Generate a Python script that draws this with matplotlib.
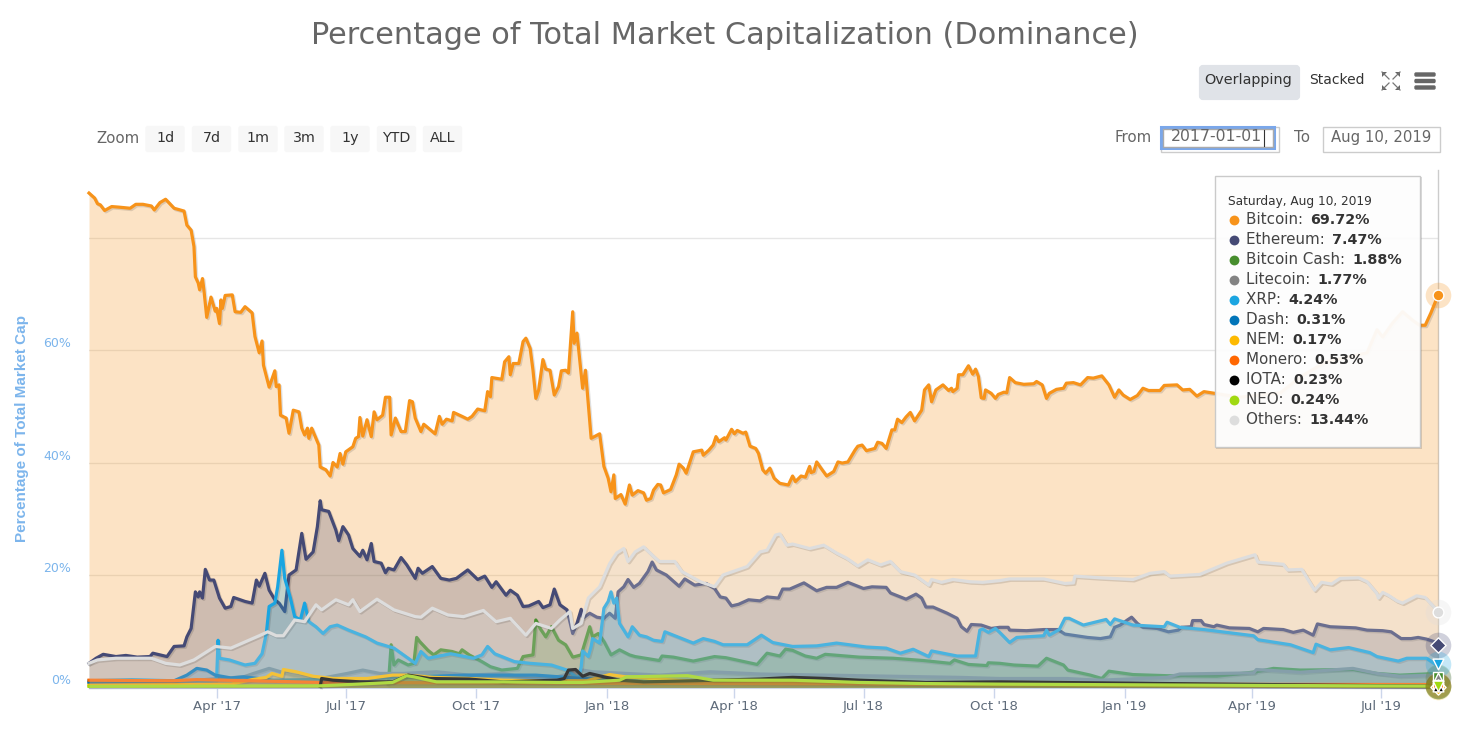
import matplotlib
matplotlib.use("Agg")
import matplotlib.pyplot as plt
import matplotlib.patheffects as pe
from matplotlib.patches import FancyBboxPatch, Polygon, Rectangle
import pandas as pd

start = pd.Timestamp("2017-01-01")

# days since 2017-01-01 and % dominance
btc_days = [0,4,6,8,11,16,21,29,33,38,44,46,50,54,60,67,69,72,74,75,77,78,80,81,83,86,89,90,92,93,94,96,101,103,107,110,115,117,120,122,123,127,131,132,134,135,139,141,144,148,150,152,154,155,157,162,163,167,170,172,175,177,179,181,186,188,190,191,193,196,199,201,203,207,209,212,213,216,220,223,226,228,230,234,236,244,247,249,252,256,257,263,267,270,274,279,281,283,284,291,293,296,297,299,303,306,308,311,313,315,317,320,322,325,328,331,333,336,338,341,342,344,348,350,354,360,363,366,368,370,371,375,378,381,383,387,391,393,396,398,401,403,405,410,414,416,419,421,426,432,433,437,440,442,444,448,449,453,455,457,461,463,466,470,472,475,477,480,483,487,493,496,498,502,505,508,509,511,513,516,520,525,528,531,535,540,542,545,548,554,556,559,562,566,568,570,573,576,579,582,587,589,592,594,597,602,606,608,609,612,613,616,620,623,625,627,629,631,632,636,639,641,645,647,649,653,659,666,668,672,675,677,682,687,689,694,699,704,708,714,719,723,726,729,734,739,743,747,755,758,767,771,776,781,786,791,811,840,854,872,901,908,912,919,926,933,938,942,946,951]
btc_vals = [87.9,87.0,86.0,85.8,84.8,85.5,85.4,85.2,85.9,85.9,85.6,84.9,86.2,86.8,85.2,84.7,82.2,81.3,78.4,73.0,71.9,70.7,72.7,70.7,65.8,69.4,66.9,67.4,64.7,68.9,67.4,69.7,69.8,66.8,66.7,67.7,66.6,62.4,59.5,61.6,57.3,53.4,56.3,53.5,53.8,48.4,47.9,45.2,49.3,49.0,46.1,44.9,46.1,44.3,46.1,43.1,39.2,38.7,37.6,40.0,39.2,41.6,39.7,41.9,42.8,44.3,44.6,48.0,44.7,47.6,44.6,49.0,47.6,48.4,51.6,51.6,44.9,47.9,45.5,45.5,51.0,50.8,47.9,45.5,46.8,45.1,48.2,46.8,47.7,47.4,48.9,48.2,47.7,48.2,49.5,49.2,52.6,51.7,55.1,54.8,57.9,58.8,55.6,57.6,57.6,61.5,62.1,60.3,56.4,51.4,52.9,58.3,56.6,56.4,52.0,53.5,56.3,56.4,55.9,66.8,61.2,63.0,53.2,56.4,44.3,45.1,39.3,37.2,34.8,37.8,33.6,34.3,32.6,36.0,34.2,35.0,34.6,33.3,33.6,35.1,36.1,36.0,34.6,35.2,37.8,39.7,39.0,38.1,41.9,42.2,41.3,42.2,43.1,44.6,43.7,44.4,44.0,45.9,45.1,45.7,45.2,45.4,42.9,42.5,41.6,38.7,38.1,39.0,37.2,36.3,36.0,37.6,36.6,37.6,37.4,39.3,38.2,38.4,40.1,39.0,37.6,38.4,40.1,39.9,40.1,42.2,42.9,43.1,42.1,42.5,43.6,43.4,42.5,45.8,45.8,47.7,47.1,48.1,48.9,47.4,49.3,52.9,53.8,50.8,52.9,53.8,52.8,53.2,52.6,53.2,55.6,55.6,57.2,55.7,56.6,55.3,51.5,51.4,52.9,52.3,51.4,52.1,52.5,52.4,55.1,54.2,53.9,54.0,54.4,53.8,51.4,52.3,53.0,53.2,54.1,54.2,53.8,55.1,55.0,55.4,53.8,51.6,52.9,52.0,51.2,51.9,53.2,52.8,52.8,53.7,53.8,52.9,53.0,51.8,52.6,52.4,51.6,52.4,55.2,57.9,59.5,63.6,62.3,64.8,66.8,65.3,64.4,64.4,66.6,69.72]

eth_days = [0,5,10,19,26,34,43,45,50,55,60,67,69,72,75,77,78,80,82,85,88,92,96,100,102,110,115,118,120,124,127,131,134,138,141,146,150,153,158,161,163,164,169,174,176,179,183,186,191,193,196,199,201,206,209,211,215,220,224,230,232,235,242,248,254,259,267,274,279,284,287,294,297,302,306,310,317,320,325,328,332,337,341,344,347,348,353,358,363,367,371,373,377,380,384,388,394,397,400,407,416,420,427,435,441,445,449,453,458,465,473,478,486,489,494,504,513,520,527,535,546,552,562,565,576,583,587,590,595,605,612,615,619,622,629,636,642,648,649,661,673,683,688,696,704,713,720,723,727,732,735,739,743,753,761,768,770,777,778,784,786,793,795,804,818,824,828,842,849,856,863,866,875,893,901,912,918,925,932,937,943,950,951]
eth_vals = [4.3,5.2,5.9,5.5,5.7,5.4,5.5,6.1,5.8,5.5,7.3,7.4,9.0,10.5,17.0,16.1,17.0,15.9,21.0,19.1,19.1,15.9,14.1,14.4,16.0,15.3,15.0,19.1,18.0,20.3,17.3,15.6,15.0,13.5,20.0,20.9,27.4,22.8,24.1,28.6,33.2,31.6,31.3,28.0,26.1,28.6,27.1,24.7,23.3,24.4,22.7,25.6,22.4,22.1,20.4,21.2,20.9,23.1,21.8,19.4,21.2,20.3,21.5,19.4,19.1,19.4,20.9,19.2,19.8,17.8,18.8,16.4,17.3,16.4,14.4,14.5,15.3,14.2,14.7,17.5,14.7,13.8,9.6,11.4,13.9,12.3,13.2,12.5,12.3,13.2,12.3,17.0,17.9,19.2,17.8,18.5,20.6,22.3,20.9,20.0,18.0,19.3,18.2,18.5,17.6,16.1,15.9,14.5,14.8,15.6,15.4,16.1,15.9,17.5,17.5,18.6,17.2,17.8,17.8,18.7,17.6,17.9,17.8,16.8,15.7,16.6,15.9,14.3,14.3,13.2,12.3,10.8,10.0,11.2,11.1,10.5,10.7,10.7,10.2,10.1,10.3,10.3,9.5,9.2,8.9,8.7,9.0,10.7,11.1,12.0,12.5,11.4,10.7,10.5,9.9,10.2,10.7,10.8,11.9,11.9,11.2,10.8,11.1,10.6,10.5,9.9,10.5,10.3,9.8,10.2,9.3,11.3,10.8,10.6,10.2,10.1,9.9,8.7,8.7,8.9,8.6,8.0,7.47]

xrp_days = [0,30,59,85,89,90,91,92,99,110,117,122,125,127,131,133,136,138,142,145,149,152,155,160,165,170,175,183,195,203,215,230,234,239,255,271,277,281,286,300,311,326,337,345,347,348,352,354,355,360,363,366,368,370,372,374,380,383,388,393,398,404,406,412,426,433,441,447,464,474,482,496,513,527,548,562,572,581,592,594,612,625,628,630,634,639,642,649,654,673,675,677,684,688,691,701,717,720,723,736,758,760,769,786,821,824,847,863,865,875,888,903,908,923,929,943,950,951]
xrp_vals = [1.2,1.4,1.2,1.1,1.3,1.9,8.4,5.2,4.9,4.0,4.3,6.0,9.6,14.4,15.0,17.9,24.4,19.4,15.9,12.6,12.0,15.0,11.7,10.8,9.6,10.8,11.1,10.2,9.0,7.9,7.0,4.3,6.4,5.2,6.0,5.2,5.8,7.3,6.0,4.6,4.3,4.0,3.1,1.6,3.7,6.5,5.5,7.3,8.7,7.9,14.1,15.3,17.0,15.0,15.9,11.4,9.0,10.8,9.3,9.0,8.4,8.2,9.9,9.3,7.9,8.7,8.2,7.6,7.6,9.3,8.0,7.3,7.4,7.9,7.2,7.0,6.1,6.8,5.5,6.5,5.6,5.6,10.2,10.4,9.8,10.5,9.8,8.0,8.9,9.2,10.2,9.3,10.3,12.3,12.3,11.1,12.1,11.2,12.2,11.1,10.8,11.6,10.7,10.3,9.2,8.5,7.6,6.2,7.7,6.7,7.1,6.2,5.5,4.7,5.2,5.2,4.0,4.24]

bch_days = [211,213,215,218,225,229,231,233,239,243,248,256,261,263,268,277,283,291,302,306,313,315,318,322,326,331,336,341,347,353,355,359,363,368,374,381,385,402,404,412,426,441,449,471,478,487,491,496,505,513,519,543,567,588,607,610,620,633,634,642,652,669,675,687,690,706,714,719,736,760,795,823,835,854,891,908,924,950,951]
bch_vals = [0.5,7.6,4.0,4.9,4.0,4.3,8.9,8.2,6.6,5.8,6.7,6.4,6.0,6.7,5.8,4.6,3.7,3.1,3.4,5.5,5.8,12.0,10.5,9.0,10.8,8.4,7.6,5.4,5.8,10.8,9.0,9.6,8.2,5.8,6.7,5.8,5.5,4.8,5.6,5.4,4.7,5.5,5.3,4.1,6.1,5.6,6.8,6.6,5.6,5.2,5.9,5.4,5.2,4.8,4.3,4.9,4.1,3.9,4.4,4.3,4.0,3.8,5.2,4.0,3.1,2.2,1.6,2.9,2.3,2.1,2.0,2.8,3.4,3.1,3.2,2.5,2.2,2.5,1.88]

ltc_days = [0,59,109,116,127,135,144,163,182,193,205,221,245,268,292,311,330,348,355,379,402,438,473,520,567,614,642,689,713,760,769,821,823,854,891,908,924,950,951]
ltc_vals = [1.0,1.0,1.9,2.5,3.4,2.8,2.2,1.6,2.5,3.1,2.5,2.5,2.8,2.2,2.5,1.6,1.9,3.1,2.8,2.5,2.2,2.8,2.4,2.2,2.0,1.8,1.6,1.6,1.3,1.8,2.4,2.6,3.2,2.7,3.4,2.5,2.0,2.2,1.77]

dash_days = [0,60,69,76,83,89,100,109,130,200,264,315,348,420,600,951]
dash_vals = [0.9,1.2,2.2,3.4,3.1,2.2,1.7,1.9,1.3,1.6,2.2,2.2,1.6,1.0,0.5,0.31]

nem_days = [0,100,115,125,129,136,137,146,158,172,196,214,224,243,268,292,315,351,367,378,420,600,951]
nem_vals = [0.4,0.6,1.4,1.8,2.5,2.0,3.2,2.8,2.0,1.6,1.6,2.2,2.2,1.8,1.6,1.3,1.2,1.2,2.3,1.9,1.2,0.5,0.17]

xmr_days = [0,59,76,115,163,300,600,951]
xmr_vals = [1.3,1.2,1.4,1.2,0.9,0.8,0.6,0.53]

iota_days = [163,164,172,191,214,225,240,268,292,330,335,338,343,348,353,363,374,391,426,473,496,520,543,590,642,800,951]
iota_vals = [0.2,1.6,1.3,1.0,1.0,2.2,1.6,1.5,1.0,1.3,1.6,3.1,3.2,2.0,2.5,1.9,1.3,1.0,1.2,1.5,1.8,1.6,1.3,0.9,1.0,0.6,0.23]

neo_days = [0,163,198,214,224,229,245,292,330,348,374,379,422,440,496,543,590,642,800,951]
neo_vals = [0.2,0.3,0.7,0.9,2.1,1.9,1.0,1.0,0.9,0.9,1.3,1.9,2.1,1.3,1.3,0.9,0.7,0.6,0.4,0.24]

oth_days = [0,6,19,44,54,64,74,89,100,110,120,126,132,137,145,152,160,164,174,183,186,191,203,215,230,234,242,253,264,278,287,297,308,315,326,332,339,341,347,352,360,367,372,377,380,385,391,398,402,413,418,431,441,447,464,473,478,484,487,492,496,508,518,527,534,542,549,558,565,572,582,592,594,601,609,621,630,642,649,673,688,694,695,713,736,748,758,762,783,802,822,824,842,845,855,864,869,876,882,895,901,908,909,912,916,922,926,936,942,950,951]
oth_vals = [4.3,4.9,5.2,5.2,4.3,4.0,4.9,7.3,7.0,8.1,9.2,9.9,9.2,9.2,12.0,11.7,14.7,13.8,15.6,14.7,15.6,13.5,15.7,13.8,12.6,12.5,14.1,12.9,12.6,13.7,11.7,12.3,9.3,11.4,10.5,12.0,13.5,10.5,11.4,15.9,17.9,22.0,23.9,24.7,22.4,24.1,25.0,23.3,22.4,22.4,20.6,18.8,17.9,20.0,21.5,24.1,24.4,27.1,27.3,25.3,25.5,24.7,25.3,23.9,23.0,21.6,22.7,21.8,22.4,20.6,20.0,18.2,19.2,18.7,19.2,18.8,18.7,19.0,19.3,19.3,18.5,18.6,19.8,19.5,19.2,20.3,20.6,19.8,20.1,22.1,23.6,22.3,21.9,20.9,21.0,17.3,18.7,18.4,19.4,19.5,18.8,16.7,15.9,16.9,16.4,15.4,15.0,16.3,16.0,13.8,13.44]

names = ["Bitcoin", "Ethereum", "Bitcoin Cash", "Litecoin", "XRP", "Dash", "NEM", "Monero", "IOTA", "NEO", "Others"]
latest = ["69.72%", "7.47%", "1.88%", "1.77%", "4.24%", "0.31%", "0.17%", "0.53%", "0.23%", "0.24%", "13.44%"]
colors = ["#f7931a", "#454a75", "#478e2e", "#838383", "#1aa5e1", "#0074b8", "#fdb900", "#ff6600", "#000000", "#a0d911", "#dddddd"]
series = [(btc_days, btc_vals), (eth_days, eth_vals), (bch_days, bch_vals), (ltc_days, ltc_vals),
          (xrp_days, xrp_vals), (dash_days, dash_vals), (nem_days, nem_vals), (xmr_days, xmr_vals),
          (iota_days, iota_vals), (neo_days, neo_vals), (oth_days, oth_vals)]
markers = ["o", "D", "s", "^", "v", "o", "D", "s", "^", "v", "o"]

tick_dates = ["2017-04-01", "2017-07-01", "2017-10-01", "2018-01-01", "2018-04-01", "2018-07-01", "2018-10-01", "2019-01-01", "2019-04-01", "2019-07-01"]
tick_labels = ["Apr '17", "Jul '17", "Oct '17", "Jan '18", "Apr '18", "Jul '18", "Oct '18", "Jan '19", "Apr '19", "Jul '19"]
y_ticks = [0, 20, 40, 60, 80]
y_labels = ["0%", "20%", "40%", "60%", ""]
zoom_buttons = ["1d", "7d", "1m", "3m", "1y", "YTD", "ALL"]

W, H = 1484, 732
fig = plt.figure(figsize=(W / 100, H / 100), dpi=100)
ax = fig.add_axes([89 / W, (H - 687.5) / H, (1438 - 89) / W, (687.5 - 170) / H])

for i, (days, vals) in enumerate(series):
    x = start + pd.to_timedelta(days, unit="D")
    ax.fill_between(x, vals, 0, color=colors[i], alpha=0.25, lw=0, zorder=3 + i)
    ax.plot(x, vals, color=colors[i], lw=2.3, zorder=3 + i, clip_on=False, solid_joinstyle="round",
            path_effects=[pe.SimpleLineShadow(offset=(1, -1), alpha=0.12, shadow_color="k"), pe.Normal()])
    # hover marker at the last point
    ax.scatter(x[-1], vals[-1], s=340, color=colors[i], alpha=0.25, lw=0, zorder=20, clip_on=False)
    ax.scatter(x[-1], vals[-1], s=60, color=colors[i], marker=markers[i], edgecolor="white", lw=1, zorder=21, clip_on=False)

end = start + pd.Timedelta(days=951)
ax.set_xlim(start, end)
ax.set_ylim(0, 92)
ax.axvline(end, color="#cccccc", lw=1, zorder=2, clip_on=False)
for s in ["top", "right", "left"]:
    ax.spines[s].set_visible(False)
ax.spines["bottom"].set_color("#ccd6eb")
ax.set_yticks(y_ticks)
ax.set_yticklabels(y_labels, color="#7cb5ec", fontsize=9, va="bottom")
ax.tick_params(axis="y", length=0, pad=13)
ax.grid(axis="y", color="#e6e6e6", lw=1, zorder=1)
ax.set_axisbelow(True)
ax.set_xticks(pd.to_datetime(tick_dates))
ax.set_xticklabels(tick_labels, color="#5f6b7a", fontsize=9.5)
ax.tick_params(axis="x", length=7.2, width=1, color="#ccd6eb", pad=2)

# page furniture, placed in pixels
ui = fig.add_axes([0, 0, 1, 1], zorder=10)
ui.set_xlim(0, W)
ui.set_ylim(H, 0)
ui.axis("off")
ui.patch.set_alpha(0)

ui.text(724.5, 36, "Percentage of Total Market Capitalization (Dominance)", ha="center", va="center", fontsize=21.9, color="#666666")
ui.text(22, 428, "Percentage of Total Market Cap", rotation=90, ha="center", va="center", fontsize=11, color="#7cb5ec", fontweight="bold", family="Liberation Sans")

ui.add_patch(FancyBboxPatch((1201, 67), 97, 31, boxstyle="round,pad=0,rounding_size=2", fc="#e0e3e8", ec="#e0e3e8", lw=3))
ui.text(1248, 80, "Overlapping", ha="center", va="center", fontsize=10.4, color="#333333")
ui.text(1337, 80, "Stacked", ha="center", va="center", fontsize=10, color="#333333")
for x0, y0, dx, dy in [(1382, 72, 1, 1), (1400, 72, -1, 1), (1382, 90, 1, -1), (1400, 90, -1, -1)]:
    ui.add_patch(Polygon([(x0, y0), (x0 + dx * 5, y0), (x0, y0 + dy * 5)], fc="#666666", ec="none"))
    ui.plot([x0, x0 + dx * 7], [y0, y0 + dy * 7], color="#777777", lw=0.9)
for yb in [74.5, 81, 87.5]:
    ui.add_patch(FancyBboxPatch((1415, yb - 1.5), 20, 3, boxstyle="round,pad=0,rounding_size=1", fc="#666666", ec="#666666", lw=1))

ui.text(118, 138.5, "Zoom", ha="center", va="center", fontsize=10.8, color="#666666")
for label, xb in zip(zoom_buttons, [145, 191.5, 238, 284, 330, 376.5, 422.5]):
    ui.add_patch(FancyBboxPatch((xb + 1, 126.5), 38, 25, boxstyle="round,pad=0,rounding_size=2", fc="#f7f7f7", ec="#f7f7f7", lw=1))
    ui.text(xb + 20, 138, label, ha="center", va="center", fontsize=10.3, color="#333333")

ui.text(1133.5, 137.5, "From", ha="center", va="center", fontsize=10.8, color="#666666")
ui.add_patch(Rectangle((1160.5, 126.5), 118, 25, fc="white", ec="#cccccc", lw=1))
ui.add_patch(Rectangle((1161, 127), 113, 21, fc="white", ec="#7aa7ea", lw=2.2))
ui.add_patch(Rectangle((1162.5, 128.5), 110, 18, fc="none", ec="#aaaaaa", lw=1))
ui.text(1217, 136.5, "2017-01-01", ha="center", va="center", fontsize=11.3, color="#666666")
ui.plot([1263.5, 1263.5], [130, 146], color="#333333", lw=0.8)
ui.text(1302.5, 137.5, "To", ha="center", va="center", fontsize=10.8, color="#666666")
ui.add_patch(Rectangle((1322.5, 126.5), 117, 25, fc="white", ec="#cccccc", lw=1))
ui.text(1381, 137.5, "Aug 10, 2019", ha="center", va="center", fontsize=10.7, color="#666666")

# tooltip
ui.add_patch(Rectangle((1216, 177), 206, 272, fc="black", alpha=0.14, ec="none"))
ui.add_patch(Rectangle((1214.5, 175.5), 205, 271, fc="white", alpha=0.95, ec="#c8c8c8", lw=1))
ui.text(1228, 201, "Saturday, Aug 10, 2019", va="center", fontsize=8.75, color="#333333")
renderer = fig.canvas.get_renderer()
for i, name in enumerate(names):
    yr = 220 + 20 * i
    ui.scatter([1234], [yr], s=50, color=colors[i], lw=0)
    t = ui.text(1246.5, yr, name + ": ", va="center", fontsize=10.9, color="#444444")
    x1 = t.get_window_extent(renderer).x1
    ui.text(x1 + 2, yr, latest[i], va="center", fontsize=10.3, color="#333333", fontweight="bold")

fig.savefig("out.png", dpi=100)
